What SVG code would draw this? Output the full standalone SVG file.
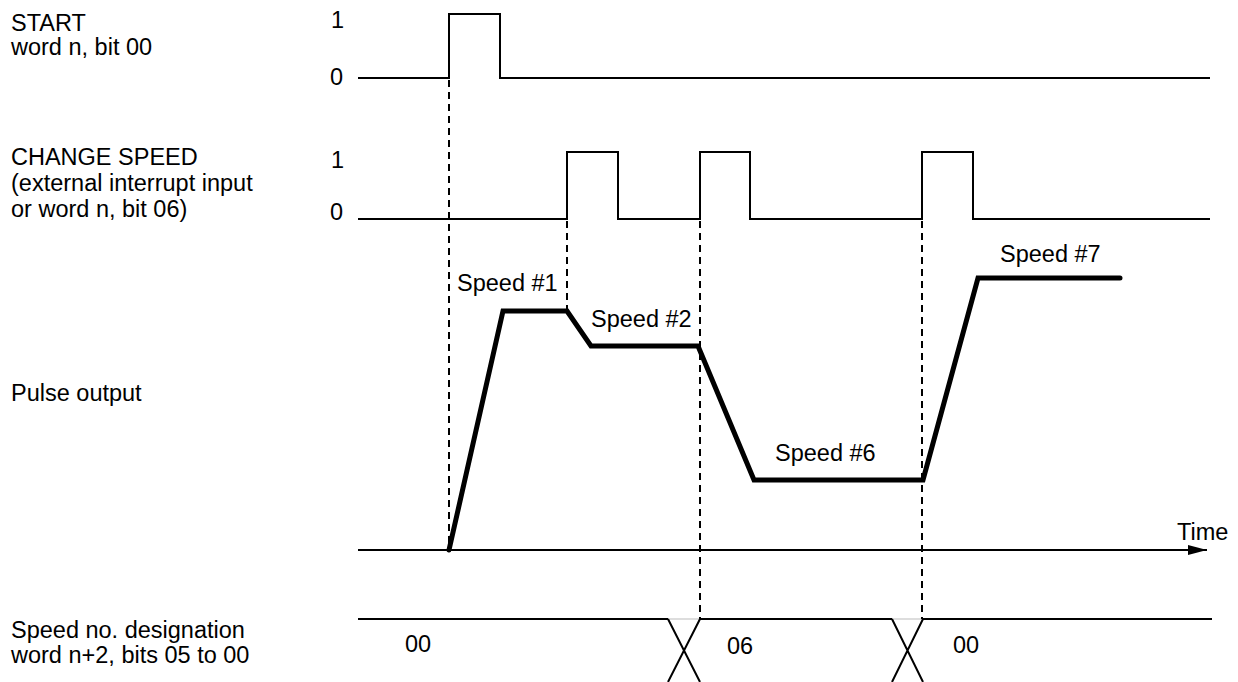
<svg xmlns="http://www.w3.org/2000/svg" width="1238" height="682" viewBox="0 0 1238 682">
<defs>
<style>
text{font-family:"Liberation Sans",Arial,Helvetica,sans-serif;font-size:23.5px;fill:#000}
.sig{fill:none;stroke:#000;stroke-width:2}
.dash{fill:none;stroke:#000;stroke-width:2;stroke-dasharray:7 5}
.pulse{fill:none;stroke:#000;stroke-width:5;stroke-linejoin:miter;stroke-linecap:round}
</style>
<marker id="arr" markerWidth="20" markerHeight="12" refX="19" refY="6" orient="auto" markerUnits="userSpaceOnUse">
<path d="M0,1 L19,6 L0,11 Z" fill="#000"/>
</marker>
</defs>
<g id="labels">
<text x="11" y="31">START</text>
<text x="11" y="55">word n, bit 00</text>
<text x="11" y="165">CHANGE SPEED</text>
<text x="11" y="191">(external interrupt input</text>
<text x="11" y="217">or word n, bit 06)</text>
<text x="11" y="401">Pulse output</text>
<text x="11" y="638">Speed no. designation</text>
<text x="11" y="663">word n+2, bits 05 to 00</text>
</g>
<g id="start">
<text x="331" y="28">1</text>
<text x="330" y="85">0</text>
<path class="sig" d="M358,78 H449 V14 H500 V78 H1210"/>
</g>
<g id="change-speed">
<text x="331" y="168">1</text>
<text x="330" y="220">0</text>
<path class="sig" d="M358,219 H567 V152 H618 V219 H700 V152 H750 V219 H922 V152 H973 V219 H1210"/>
</g>
<g id="pulse-output">
<path class="sig" d="M358,550 H1207" marker-end="url(#arr)"/>
<text x="1177" y="540">Time</text>
<path class="pulse" d="M449,550 L503,311 H567 L591,346 H698 L754,480 H923 L978,278 H1120"/>
<text x="457" y="291">Speed #1</text>
<text x="591" y="327">Speed #2</text>
<text x="775" y="461">Speed #6</text>
<text x="1000" y="262">Speed #7</text>
</g>
<g id="speed-designation">
<path class="sig" d="M358,619 H668 M700,619 H892 M923,619 H1212"/>
<path d="M668,619 H700 M892,619 H923" stroke="#bbb" stroke-width="1" fill="none"/>
<path class="sig" d="M668,619 L700,682 M700,619 L668,682 M892,619 L923,682 M923,619 L892,682"/>
<text x="405" y="652">00</text>
<text x="727" y="654">06</text>
<text x="953" y="653">00</text>
</g>
<g id="connectors">
<path class="dash" d="M449,80 V550"/>
<path class="dash" d="M567,221 V310"/>
<path class="dash" d="M700,221 V619"/>
<path class="dash" d="M922,221 V619"/>
</g>
</svg>
